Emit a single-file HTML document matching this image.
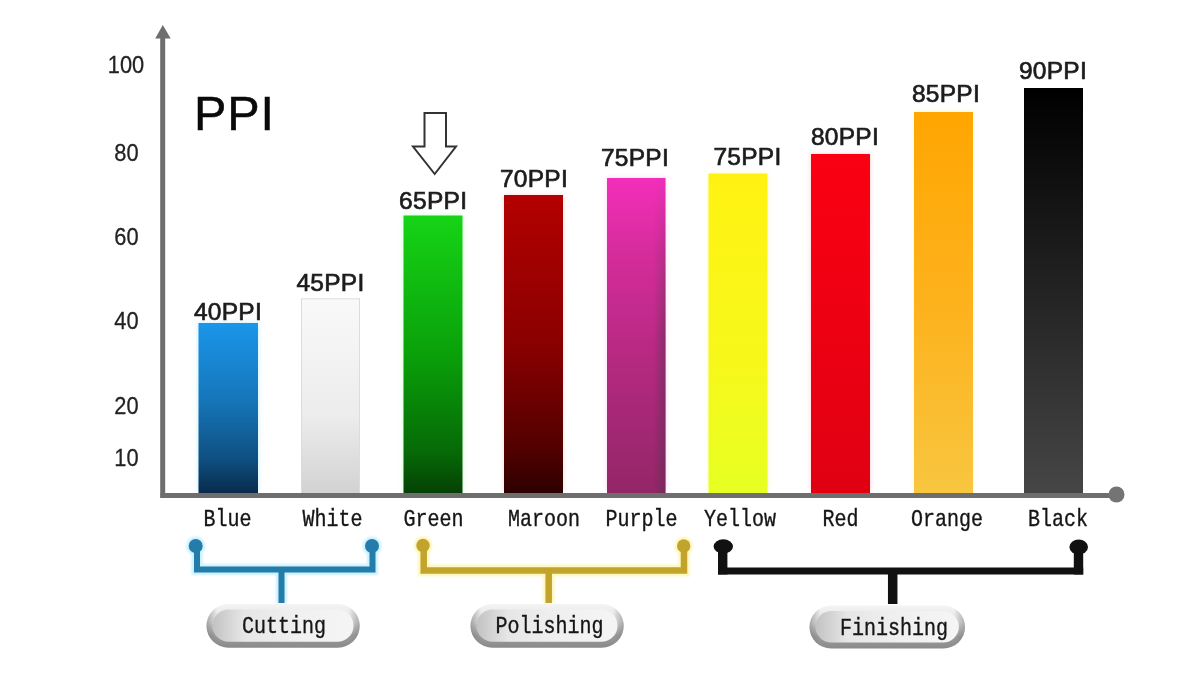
<!DOCTYPE html>
<html lang="en">
<head>
<meta charset="utf-8">
<title>PPI chart</title>
<style>
html,body{margin:0;padding:0;background:#fff;}
body{width:1200px;height:692px;overflow:hidden;position:relative;font-family:"Liberation Sans",sans-serif;}
svg{position:absolute;left:0;top:0;display:block;}
.ax{font-family:"Liberation Sans",sans-serif;font-size:23px;fill:#222;stroke:#222;stroke-width:.25px;}
.val{font-family:"Liberation Sans",sans-serif;font-size:24.5px;letter-spacing:.3px;fill:#1c1c1c;stroke:#1c1c1c;stroke-width:.7px;}
.ttl{font-family:"Liberation Sans",sans-serif;font-size:48.5px;fill:#0a0a0a;stroke:#0a0a0a;stroke-width:.5px;letter-spacing:1px;}
.cat{font-family:"Liberation Mono",monospace;font-size:20px;fill:#161616;stroke:#161616;stroke-width:.3px;}
</style>
</head>
<body>
<svg width="1200" height="692" viewBox="0 0 1200 692">
<defs>
<linearGradient id="gBlue" x1="0" y1="0" x2="0" y2="1"><stop offset="0" stop-color="#1a96ea"/><stop offset=".45" stop-color="#1676ba"/><stop offset=".8" stop-color="#0e4f80"/><stop offset="1" stop-color="#08294a"/></linearGradient>
<linearGradient id="gWhite" x1="0" y1="0" x2="0" y2="1"><stop offset="0" stop-color="#f9f9f9"/><stop offset=".6" stop-color="#ececec"/><stop offset="1" stop-color="#d2d2d2"/></linearGradient>
<linearGradient id="gGreen" x1="0" y1="0" x2="0" y2="1"><stop offset="0" stop-color="#16d416"/><stop offset=".5" stop-color="#0aa00a"/><stop offset=".85" stop-color="#066a06"/><stop offset="1" stop-color="#054005"/></linearGradient>
<linearGradient id="gMaroon" x1="0" y1="0" x2="0" y2="1"><stop offset="0" stop-color="#b40000"/><stop offset=".5" stop-color="#8a0000"/><stop offset=".85" stop-color="#520000"/><stop offset="1" stop-color="#2c0000"/></linearGradient>
<linearGradient id="gPurple" x1="0" y1="0" x2="0" y2="1"><stop offset="0" stop-color="#f22fba"/><stop offset=".08" stop-color="#ea2eb0"/><stop offset=".25" stop-color="#d42c9a"/><stop offset=".5" stop-color="#bc2a86"/><stop offset=".75" stop-color="#a62876"/><stop offset="1" stop-color="#942666"/></linearGradient>
<linearGradient id="edgeR" x1="0" y1="0" x2="1" y2="0"><stop offset="0" stop-color="#503050" stop-opacity="0"/><stop offset=".8" stop-color="#503050" stop-opacity="0"/><stop offset="1" stop-color="#503050" stop-opacity=".45"/></linearGradient>
<linearGradient id="gYellow" x1="0" y1="0" x2="0" y2="1"><stop offset="0" stop-color="#fff212"/><stop offset=".6" stop-color="#f6f81a"/><stop offset="1" stop-color="#e6ff22"/></linearGradient>
<linearGradient id="gRed" x1="0" y1="0" x2="0" y2="1"><stop offset="0" stop-color="#fa0012"/><stop offset="1" stop-color="#e00012"/></linearGradient>
<linearGradient id="gOrange" x1="0" y1="0" x2="0" y2="1"><stop offset="0" stop-color="#ffa602"/><stop offset=".5" stop-color="#fdb21c"/><stop offset="1" stop-color="#f8c640"/></linearGradient>
<linearGradient id="gBlack" x1="0" y1="0" x2="0" y2="1"><stop offset="0" stop-color="#000"/><stop offset=".5" stop-color="#232323"/><stop offset="1" stop-color="#464646"/></linearGradient>
<linearGradient id="pillOuter" x1="0" y1="0" x2="0" y2="1"><stop offset="0" stop-color="#f4f4f4"/><stop offset=".4" stop-color="#e2e2e2"/><stop offset=".72" stop-color="#9c9c9c"/><stop offset="1" stop-color="#8a8a8a"/></linearGradient>
<linearGradient id="pillEnds" x1="0" y1="0" x2="1" y2="0"><stop offset="0" stop-color="#787878" stop-opacity=".55"/><stop offset=".07" stop-color="#787878" stop-opacity="0"/><stop offset=".93" stop-color="#787878" stop-opacity="0"/><stop offset="1" stop-color="#787878" stop-opacity=".5"/></linearGradient>
<linearGradient id="pillInner" x1="0" y1="0" x2="1" y2="0"><stop offset="0" stop-color="#c2c2c2"/><stop offset=".22" stop-color="#e6e6e6"/><stop offset=".6" stop-color="#f0f0f0"/><stop offset="1" stop-color="#f5f5f5"/></linearGradient>
<linearGradient id="fadeV" x1="0" y1="0" x2="0" y2="1"><stop offset="0" stop-color="#000"/><stop offset=".5" stop-color="#fff"/><stop offset="1" stop-color="#fff"/></linearGradient>
<mask id="mFade" maskUnits="userSpaceOnUse" x="600" y="170" width="80" height="330"><rect x="600" y="170" width="80" height="330" fill="url(#fadeV)"/></mask>
<filter id="b1h" x="-10%" y="-30%" width="120%" height="160%"><feGaussianBlur stdDeviation="1.3"/></filter>
<filter id="b1" x="-10%" y="-10%" width="120%" height="120%"><feGaussianBlur stdDeviation="0.7"/></filter>
<filter id="b2" x="-20%" y="-20%" width="140%" height="140%"><feGaussianBlur stdDeviation="2.5"/></filter>
</defs>

<!-- soft halos -->
<g filter="url(#b2)" opacity=".4">
<rect x="198.5" y="323" width="59.5" height="168" fill="#59d0ff"/>
<rect x="403.5" y="215.5" width="59" height="276" fill="#7dff7d"/>
<rect x="504" y="195" width="59" height="296" fill="#ff9a9a"/>
<rect x="607" y="178" width="58.5" height="313" fill="#ff8fe0"/>
<rect x="708.5" y="173.5" width="59" height="318" fill="#fff36a"/>
<rect x="811" y="154" width="59" height="337" fill="#ff8a94"/>
<rect x="914" y="112" width="59" height="379" fill="#ffe07a"/>
</g>
<!-- bars -->
<rect x="198.5" y="323" width="59.5" height="171" fill="url(#gBlue)"/>
<rect x="301.5" y="298.8" width="58" height="195" fill="url(#gWhite)" stroke="#dcdcdc" stroke-width="1"/>
<rect x="403.5" y="215.5" width="59" height="278.5" fill="url(#gGreen)"/>
<rect x="504" y="195" width="59" height="299" fill="url(#gMaroon)"/>
<rect x="607" y="178" width="58.5" height="316" fill="url(#gPurple)"/>
<rect x="607" y="178" width="58.5" height="316" fill="url(#edgeR)" mask="url(#mFade)"/>
<rect x="708.5" y="173.5" width="59" height="320" fill="url(#gYellow)"/>
<rect x="811" y="154" width="59" height="340" fill="url(#gRed)"/>
<rect x="914" y="112" width="59" height="382" fill="url(#gOrange)"/>
<rect x="1024" y="88" width="59" height="406" fill="url(#gBlack)"/>

<!-- axes -->
<rect x="160.2" y="36" width="5" height="462" fill="#6e6e6e"/>
<polygon points="162.8,25 170.7,38.5 155.2,38.5" fill="#6e6e6e"/>
<rect x="160.5" y="493" width="956" height="5" fill="#6e6e6e"/>
<circle cx="1116.5" cy="494.5" r="8" fill="#747474"/>

<!-- y axis labels -->
<g transform="translate(126.5 0) scale(.95 1) translate(-126.5 0)">
<text class="ax" x="126" y="73" text-anchor="middle">100</text>
<text class="ax" x="126.5" y="161" text-anchor="middle">80</text>
<text class="ax" x="126.5" y="245" text-anchor="middle">60</text>
<text class="ax" x="126.5" y="328.6" text-anchor="middle">40</text>
<text class="ax" x="126.5" y="414" text-anchor="middle">20</text>
<text class="ax" x="126.5" y="466.5" text-anchor="middle">10</text>
</g>

<text class="ttl" x="234.5" y="130" text-anchor="middle">PPI</text>

<!-- value labels -->
<text class="val" x="228" y="319.7" text-anchor="middle">40PPI</text>
<text class="val" x="330.5" y="290.5" text-anchor="middle">45PPI</text>
<text class="val" x="433.2" y="209.3" text-anchor="middle">65PPI</text>
<text class="val" x="534" y="187" text-anchor="middle">70PPI</text>
<text class="val" x="635" y="166" text-anchor="middle">75PPI</text>
<text class="val" x="747.5" y="165" text-anchor="middle">75PPI</text>
<text class="val" x="845" y="145.3" text-anchor="middle">80PPI</text>
<text class="val" x="946" y="102" text-anchor="middle">85PPI</text>
<text class="val" x="1053" y="78.5" text-anchor="middle">90PPI</text>

<!-- hollow arrow -->
<path d="M424.5 113 H446 V146.5 H456 L434.7 174 L413 146.5 H424.5 Z" fill="#fff" stroke="#333" stroke-width="2" stroke-linejoin="miter"/>

<!-- category labels -->
<g transform="translate(0,526) scale(1,1.16)">
<text class="cat" x="227.5" y="0" text-anchor="middle">Blue</text>
<text class="cat" x="332.5" y="0" text-anchor="middle">White</text>
<text class="cat" x="433.5" y="0" text-anchor="middle">Green</text>
<text class="cat" x="544" y="0" text-anchor="middle">Maroon</text>
<text class="cat" x="641.5" y="0" text-anchor="middle">Purple</text>
<text class="cat" x="740" y="0" text-anchor="middle">Yellow</text>
<text class="cat" x="840.5" y="0" text-anchor="middle">Red</text>
<text class="cat" x="947" y="0" text-anchor="middle">Orange</text>
<text class="cat" x="1058" y="0" text-anchor="middle">Black</text>
</g>

<!-- brackets -->
<g fill="none" filter="url(#b1h)" opacity=".75">
<path d="M197 546 V569.5 H372.5 V546 M281.5 569.5 V603" stroke="#b9ecff" stroke-width="11"/>
<circle cx="195.7" cy="546" r="9.5" fill="#b9ecff"/><circle cx="372" cy="546" r="9.5" fill="#b9ecff"/>
<path d="M423.7 546 V570.5 H684 V546 M548.7 570.5 V603" stroke="#fff3a6" stroke-width="11.5"/>
<circle cx="423" cy="545.5" r="9.2" fill="#fff3a6"/><circle cx="683.7" cy="546" r="9.2" fill="#fff3a6"/>
</g>
<g fill="none" stroke="#247cab" stroke-width="6" stroke-linejoin="miter">
<path d="M197 546 V569.5 H372.5 V546"/>
<path d="M281.5 569.5 V603"/>
</g>
<circle cx="195.7" cy="546" r="7" fill="#247cab"/>
<circle cx="372" cy="546" r="7" fill="#247cab"/>

<g fill="none" stroke="#c2a42c" stroke-width="6.5" stroke-linejoin="miter">
<path d="M423.7 546 V570.5 H684 V546"/>
<path d="M548.7 570.5 V603"/>
</g>
<circle cx="423" cy="545.5" r="6.7" fill="#c2a42c"/>
<circle cx="683.7" cy="546" r="6.7" fill="#c2a42c"/>

<g fill="none" stroke="#111" stroke-linejoin="miter">
<path d="M722.7 546 V574.5 M1078.5 546 V574.5" stroke-width="9.4"/>
<path d="M718 571 H1083.2" stroke-width="7"/>
<path d="M892.7 571 V604" stroke-width="9.5"/>
</g>
<ellipse cx="723.3" cy="546.5" rx="9.7" ry="7.2" fill="#111"/>
<ellipse cx="1078.7" cy="547" rx="9.3" ry="7.5" fill="#111"/>

<!-- pills -->
<g>
<rect x="206.5" y="604" width="153.2" height="43.7" rx="21.85" fill="url(#pillOuter)"/>
<rect x="206.5" y="604" width="153.2" height="43.7" rx="21.85" fill="url(#pillEnds)"/>
<rect x="212.5" y="609.5" width="141" height="32.3" rx="16.15" fill="url(#pillInner)" filter="url(#b1)"/>
</g>
<g transform="translate(264,0)">
<rect x="206.5" y="604" width="153.2" height="43.7" rx="21.85" fill="url(#pillOuter)"/>
<rect x="206.5" y="604" width="153.2" height="43.7" rx="21.85" fill="url(#pillEnds)"/>
<rect x="212.5" y="609.5" width="141" height="32.3" rx="16.15" fill="url(#pillInner)" filter="url(#b1)"/>
</g>
<g transform="translate(603,1.5)">
<rect x="206.5" y="604" width="155.5" height="43" rx="21.5" fill="url(#pillOuter)"/>
<rect x="206.5" y="604" width="155.5" height="43" rx="21.5" fill="url(#pillEnds)"/>
<rect x="212.5" y="609.5" width="143.3" height="31.6" rx="15.8" fill="url(#pillInner)" filter="url(#b1)"/>
</g>
<g transform="translate(0,633) scale(1,1.16)">
<text class="cat" x="284" y="0" text-anchor="middle">Cutting</text>
<text class="cat" x="549.5" y="0" text-anchor="middle">Polishing</text>
</g>
<g transform="translate(0,635) scale(1,1.16)">
<text class="cat" x="894" y="0" text-anchor="middle">Finishing</text>
</g>
</svg>
</body>
</html>
